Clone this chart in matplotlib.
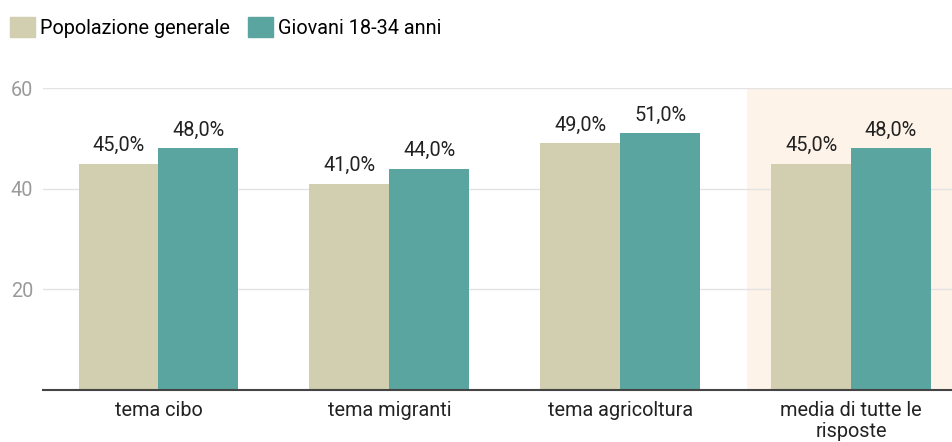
import matplotlib
matplotlib.use("Agg")
import matplotlib.pyplot as plt
from matplotlib.patches import Patch
import numpy as np

plt.rcParams['font.family'] = ['Roboto', 'DejaVu Sans']

categories = ["tema cibo", "tema migranti", "tema agricoltura", "media di tutte le\nrisposte"]
popolazione = [45.0, 41.0, 49.0, 45.0]
giovani = [48.0, 44.0, 51.0, 48.0]
series_names = ["Popolazione generale", "Giovani 18-34 anni"]
yticks = [20, 40, 60]

c_pop = "#D1CFAF"
c_gio = "#5AA5A0"
c_hl = "#FDF3E9"
FS = 14.3

fig = plt.figure(figsize=(9.52, 4.42), dpi=100)
ax = fig.add_axes([43/952, 52/442, 1 - 43/952, 302/442])

x = np.arange(len(categories))
w = 0.346
ax.axvspan(2.55, 3.6, color=c_hl, zorder=0, lw=0)
b1 = ax.bar(x - w/2, popolazione, width=w, color=c_pop, zorder=2)
b2 = ax.bar(x + w/2, giovani, width=w, color=c_gio, zorder=2)

for bars, vals in ((b1, popolazione), (b2, giovani)):
    for rect, v in zip(bars, vals):
        ax.annotate(f"{v:.1f}%".replace(".", ","),
                    (rect.get_x() + rect.get_width()/2, v),
                    xytext=(0, 6), textcoords="offset points",
                    ha="center", va="bottom", fontsize=FS, color="#222222")

ax.set_xlim(-0.5, 3.437)
ax.set_ylim(0, 60)
ax.set_yticks(yticks)
ax.set_yticklabels([str(t) for t in yticks])
ax.yaxis.grid(True, color="#E3E3E3", lw=1, zorder=1)
ax.set_axisbelow(True)
ax.tick_params(axis="y", length=0, labelsize=FS, labelcolor="#9A9A9A", pad=7)
ax.set_xticks(x)
ax.set_xticklabels(categories, fontsize=FS, color="#222222", linespacing=1.12)
ax.tick_params(axis="x", length=0, pad=8)
for s in ("top", "right", "left"):
    ax.spines[s].set_visible(False)
ax.spines["bottom"].set_color("#444444")
ax.spines["bottom"].set_linewidth(1.5)
ax.spines["bottom"].set_zorder(3)

handles = [Patch(color=c_pop), Patch(color=c_gio)]
fig.legend(handles, series_names, loc="upper left", bbox_to_anchor=(10/952, 1 - 17/442),
           ncol=2, frameon=False, fontsize=FS, handlelength=1.26, handleheight=1.2,
           handletextpad=0.25, columnspacing=0.9, borderaxespad=0, borderpad=0)

fig.savefig("out.png", dpi=100)
